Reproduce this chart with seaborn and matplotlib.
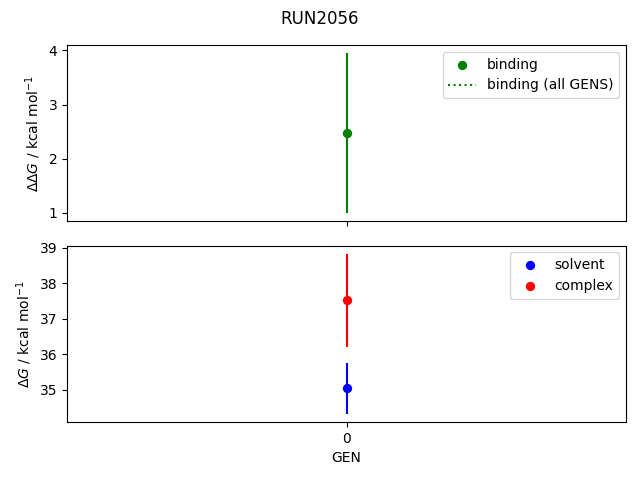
import matplotlib
matplotlib.use("Agg")
import matplotlib.pyplot as plt
import seaborn as sns
import pandas as pd

gens = [0]
binding = [2.47]
binding_err = [1.48]
solvent = [35.04]
solvent_err = [0.72]
complex_ = [37.52]
complex_err = [1.31]

fig, (ax1, ax2) = plt.subplots(2, 1, sharex=True, figsize=(6.4, 4.8), dpi=100)

sns.scatterplot(x=gens, y=binding, color="green", label="binding", ax=ax1,
                s=45, linewidth=0, zorder=3)
ax1.errorbar(gens, binding, yerr=binding_err, fmt="none", ecolor="green")
ax1.plot(gens, binding, ":", color="green", label="binding (all GENS)")
ax1.set_ylabel(r"$\Delta\Delta G$ / kcal mol$^{-1}$")
ax1.legend(loc="upper right")

sns.scatterplot(x=gens, y=solvent, color="blue", label="solvent", ax=ax2,
                s=45, linewidth=0, zorder=3)
ax2.errorbar(gens, solvent, yerr=solvent_err, fmt="none", ecolor="blue")
sns.scatterplot(x=gens, y=complex_, color="red", label="complex", ax=ax2,
                s=45, linewidth=0, zorder=3)
ax2.errorbar(gens, complex_, yerr=complex_err, fmt="none", ecolor="red")
ax2.set_ylabel(r"$\Delta G$ / kcal mol$^{-1}$")
ax2.set_xlabel("GEN")
ax2.set_xticks(gens)
ax2.legend(loc="upper right")

fig.suptitle("RUN2056", y=0.98)
fig.subplots_adjust(left=67/640, right=626/640, top=1-45/480, bottom=1-422/480,
                    hspace=24/176)
fig.savefig("out.png")
